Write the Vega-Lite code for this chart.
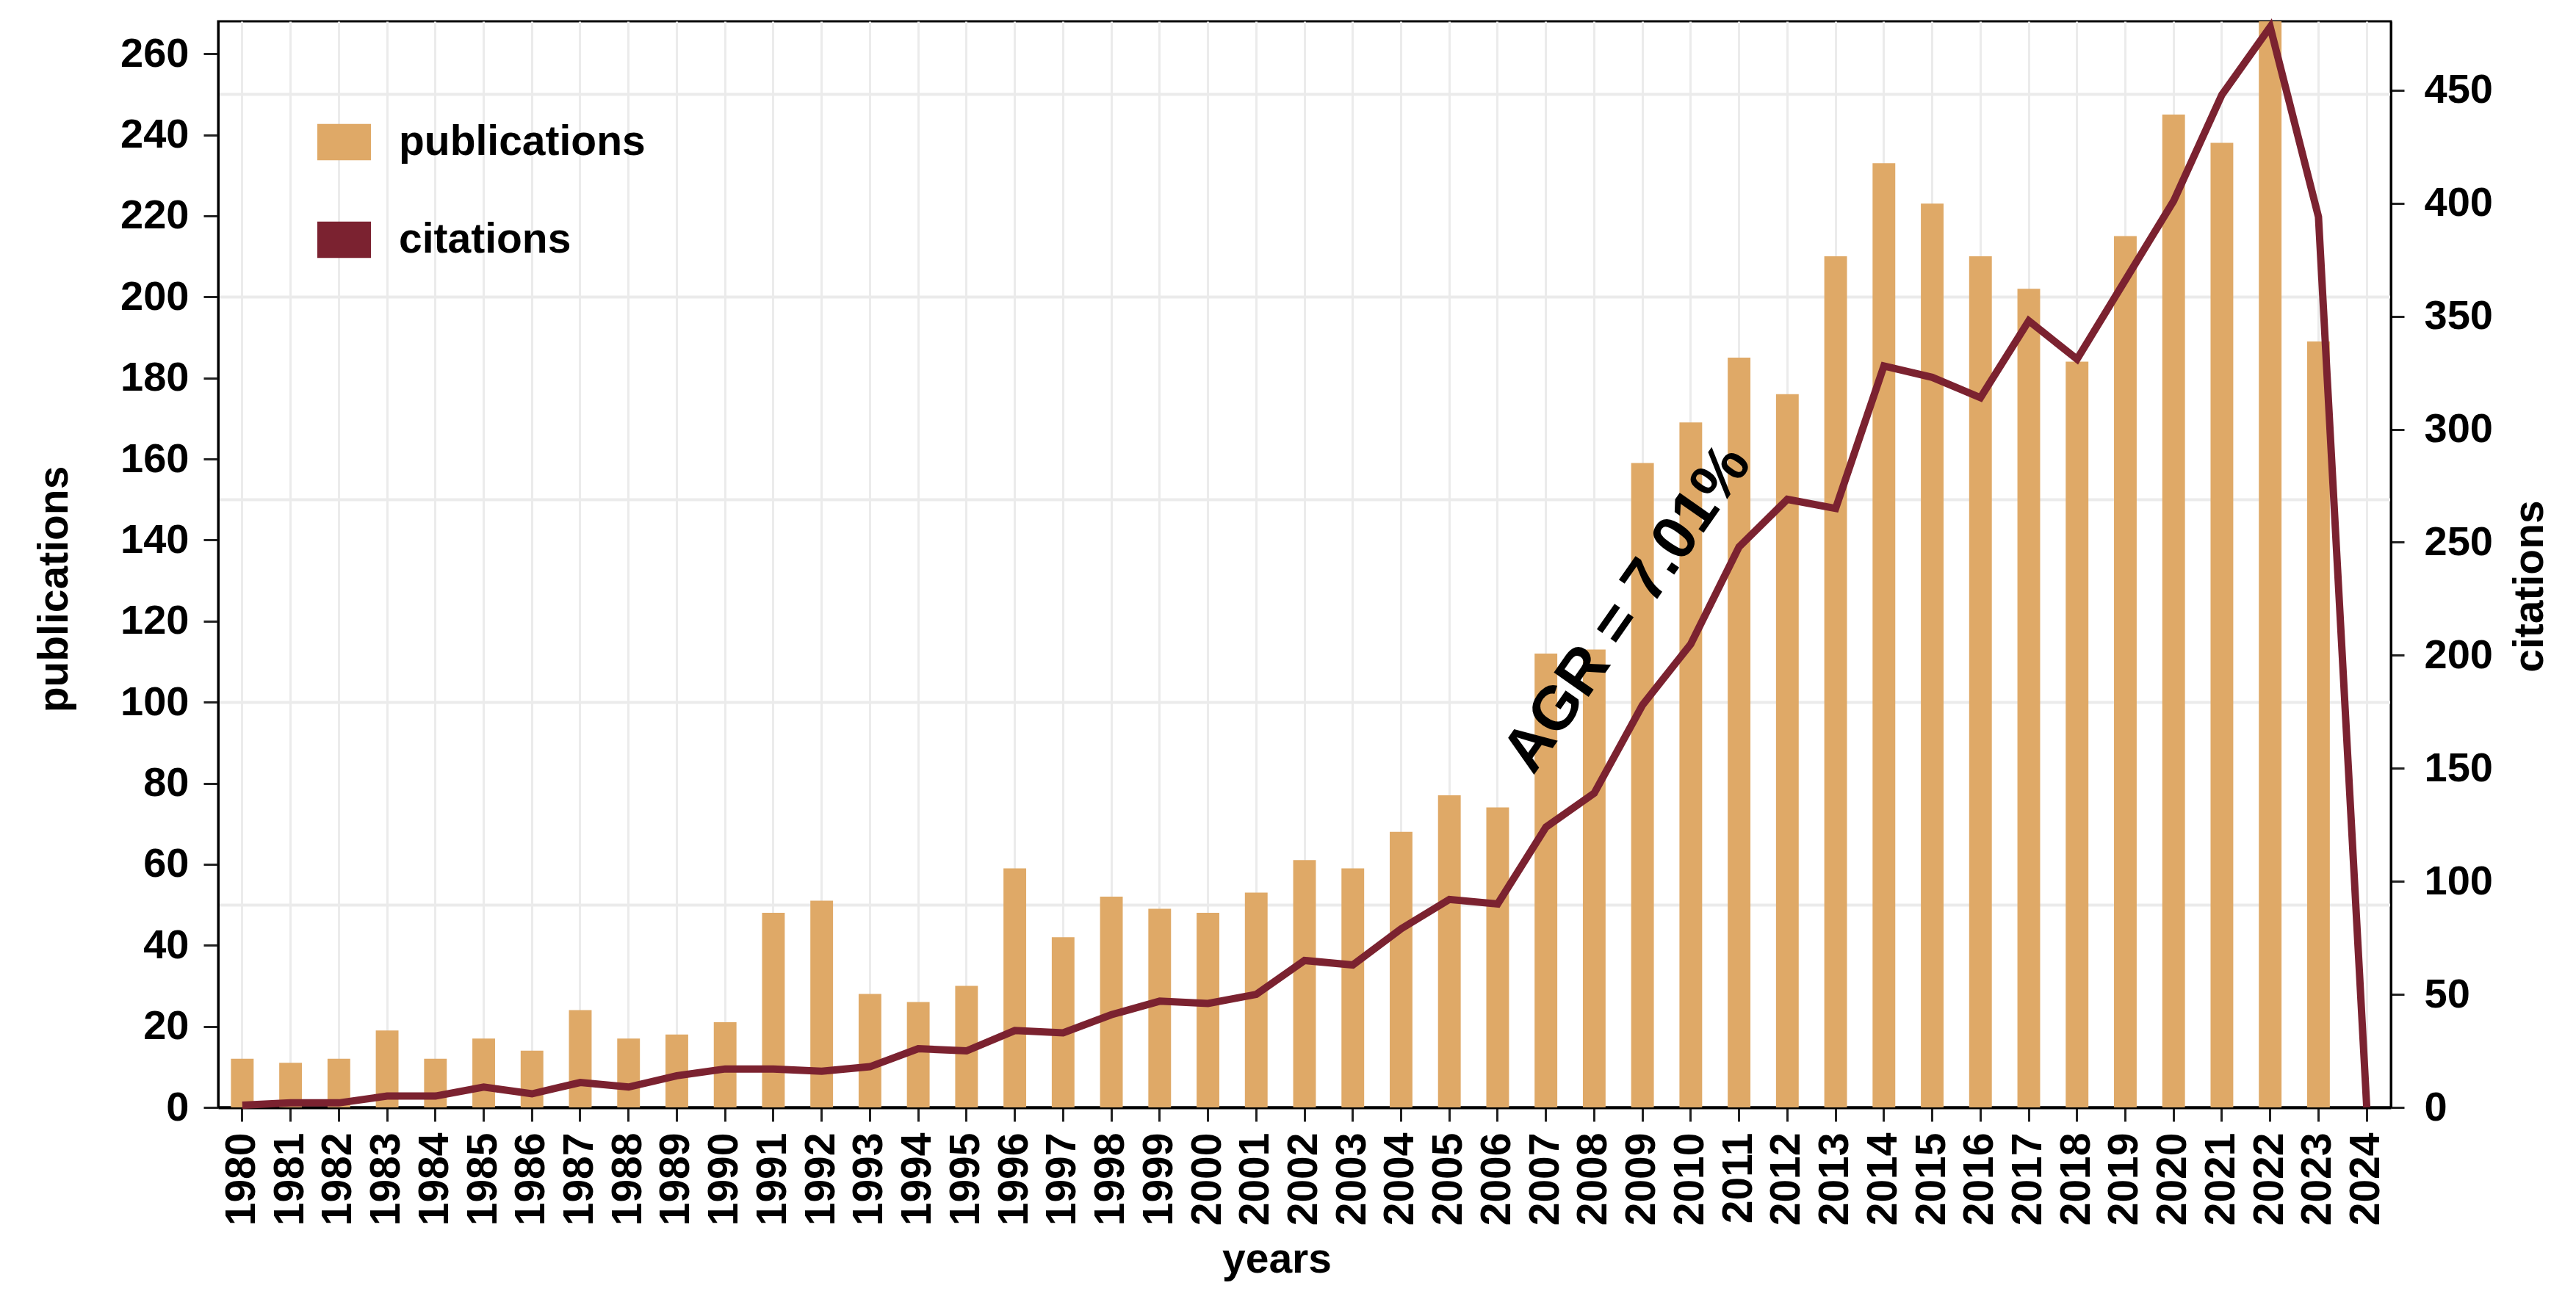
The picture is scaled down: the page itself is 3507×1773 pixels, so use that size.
{
  "$schema": "https://vega.github.io/schema/vega-lite/v6.json",
  "width": 2958,
  "height": 1479,
  "autosize": "none",
  "padding": {"left": 297, "top": 29, "right": 252, "bottom": 265},
  "background": "white",
  "config": {
    "view": {"stroke": "black", "strokeWidth": 3},
    "font": "Liberation Sans",
    "axis": {
      "labelFont": "Liberation Sans", "labelFontWeight": "bold", "labelColor": "black",
      "titleFont": "Liberation Sans", "titleFontWeight": "bold", "titleColor": "black",
      "domainColor": "black", "domainWidth": 3, "tickColor": "#222222", "tickWidth": 3
    }
  },
  "data": {"values": [
    {"year": "1980", "pub": 12, "cit": 1},
    {"year": "1981", "pub": 11, "cit": 2},
    {"year": "1982", "pub": 12, "cit": 2},
    {"year": "1983", "pub": 19, "cit": 5},
    {"year": "1984", "pub": 12, "cit": 5},
    {"year": "1985", "pub": 17, "cit": 9},
    {"year": "1986", "pub": 14, "cit": 6},
    {"year": "1987", "pub": 24, "cit": 11},
    {"year": "1988", "pub": 17, "cit": 9},
    {"year": "1989", "pub": 18, "cit": 14},
    {"year": "1990", "pub": 21, "cit": 17},
    {"year": "1991", "pub": 48, "cit": 17},
    {"year": "1992", "pub": 51, "cit": 16},
    {"year": "1993", "pub": 28, "cit": 18},
    {"year": "1994", "pub": 26, "cit": 26},
    {"year": "1995", "pub": 30, "cit": 25},
    {"year": "1996", "pub": 59, "cit": 34},
    {"year": "1997", "pub": 42, "cit": 33},
    {"year": "1998", "pub": 52, "cit": 41},
    {"year": "1999", "pub": 49, "cit": 47},
    {"year": "2000", "pub": 48, "cit": 46},
    {"year": "2001", "pub": 53, "cit": 50},
    {"year": "2002", "pub": 61, "cit": 65},
    {"year": "2003", "pub": 59, "cit": 63},
    {"year": "2004", "pub": 68, "cit": 79},
    {"year": "2005", "pub": 77, "cit": 92},
    {"year": "2006", "pub": 74, "cit": 90},
    {"year": "2007", "pub": 112, "cit": 124},
    {"year": "2008", "pub": 113, "cit": 139},
    {"year": "2009", "pub": 159, "cit": 178},
    {"year": "2010", "pub": 169, "cit": 205},
    {"year": "2011", "pub": 185, "cit": 248},
    {"year": "2012", "pub": 176, "cit": 269},
    {"year": "2013", "pub": 210, "cit": 265},
    {"year": "2014", "pub": 233, "cit": 328},
    {"year": "2015", "pub": 223, "cit": 323},
    {"year": "2016", "pub": 210, "cit": 314},
    {"year": "2017", "pub": 202, "cit": 348},
    {"year": "2018", "pub": 184, "cit": 331},
    {"year": "2019", "pub": 215, "cit": 366},
    {"year": "2020", "pub": 245, "cit": 401},
    {"year": "2021", "pub": 238, "cit": 448},
    {"year": "2022", "pub": 275, "cit": 478},
    {"year": "2023", "pub": 189, "cit": 394},
    {"year": "2024", "pub": 0, "cit": 0}
  ]},
  "encoding": {
    "x": {
      "field": "year", "type": "ordinal",
      "scale": {"paddingInner": 0.53, "paddingOuter": 0.265},
      "axis": {
        "title": "years", "titleFontSize": 57, "titleX": 1441, "titleY": 207,
        "titleBaseline": "middle", "titleAlign": "center",
        "labelAngle": 270, "labelAlign": "right", "labelBaseline": "middle",
        "labelFontSize": 57, "labelPadding": 15, "tickSize": 19, "domainWidth": 4,
        "grid": true, "gridColor": "#EBEBEB", "gridWidth": 3, "bandPosition": 0.5
      }
    }
  },
  "layer": [
    {
      "layer": [
        {
          "mark": {"type": "bar", "clip": true},
          "encoding": {
            "y": {
              "field": "pub", "type": "quantitative",
              "scale": {"domain": [0, 268], "nice": false, "zero": true},
              "axis": {
                "orient": "left", "title": "publications", "titleFontSize": 57,
                "titleX": -223, "titleY": 773, "titleAngle": 270,
                "titleAlign": "center", "titleBaseline": "middle",
                "values": [0, 20, 40, 60, 80, 100, 120, 140, 160, 180, 200, 220, 240, 260],
                "labelFontSize": 56, "labelPadding": 20, "tickSize": 20, "grid": false
              }
            },
            "color": {
              "datum": "publications", "type": "nominal",
              "scale": {"domain": ["publications", "citations"], "range": ["#DFA967", "#7B2230"]},
              "legend": {
                "title": null, "orient": "none", "legendX": 135, "legendY": 128,
                "symbolType": "M-1,-0.68L1,-0.68L1,0.68L-1,0.68Z", "symbolSize": 5329,
                "symbolStrokeWidth": 0, "symbolOpacity": 1,
                "labelFontSize": 57, "labelFont": "Liberation Sans", "labelFontWeight": "bold",
                "labelColor": "black", "labelOffset": 38, "rowPadding": 68, "padding": 0,
                "labelLimit": 1000
              }
            }
          }
        },
        {
          "data": {"values": [{"label": "AGR = 7.01%"}]},
          "mark": {"type": "text", "angle": 305, "fontSize": 84, "fontWeight": "bold", "font": "Liberation Sans", "color": "black", "align": "center", "baseline": "middle", "xOffset": -20},
          "encoding": {
            "x": {"datum": "2009", "type": "ordinal"},
            "y": {
              "datum": 123, "type": "quantitative",
              "axis": {"orient": "right", "values": [50, 100, 150, 200, 250], "grid": true, "gridColor": "#EBEBEB", "gridWidth": 4, "labels": false, "ticks": false, "domain": false, "title": null}
            },
            "text": {"field": "label"}
          }
        }
      ]
    },
    {
      "mark": {"type": "line", "strokeWidth": 10, "strokeJoin": "miter", "clip": false},
      "encoding": {
        "y": {
          "field": "cit", "type": "quantitative",
          "scale": {"domain": [0, 480.5], "nice": false},
          "axis": {
            "orient": "right", "title": "citations", "titleFontSize": 57,
            "titleX": 189, "titleY": 769, "titleAngle": 270,
            "titleAlign": "center", "titleBaseline": "middle",
            "values": [0, 50, 100, 150, 200, 250, 300, 350, 400, 450],
            "labelFontSize": 56, "labelPadding": 27, "tickSize": 18, "grid": false
          }
        },
        "color": {"datum": "citations", "type": "nominal"}
      }
    }
  ],
  "resolve": {"scale": {"y": "independent"}, "axis": {"y": "independent"}}
}
